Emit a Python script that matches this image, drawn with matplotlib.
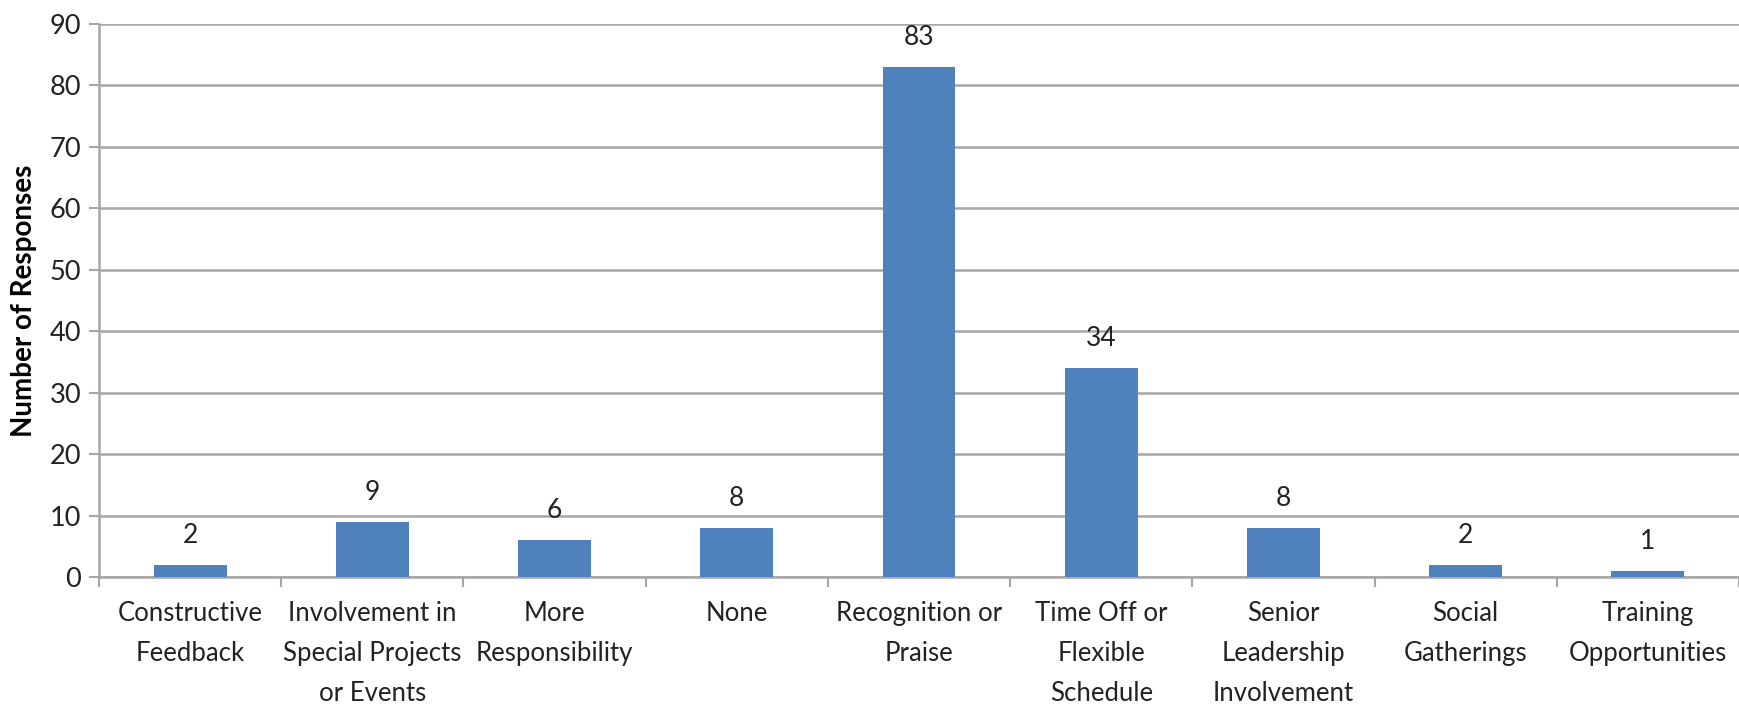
import matplotlib
matplotlib.use("Agg")
import matplotlib.pyplot as plt
import numpy as np

categories = [
    "Constructive\nFeedback",
    "Involvement in\nSpecial Projects\nor Events",
    "More\nResponsibility",
    "None",
    "Recognition or\nPraise",
    "Time Off or\nFlexible\nSchedule",
    "Senior\nLeadership\nInvolvement",
    "Social\nGatherings",
    "Training\nOpportunities",
]
responses = [2, 9, 6, 8, 83, 34, 8, 2, 1]
y_ticks = [0, 10, 20, 30, 40, 50, 60, 70, 80, 90]

plt.rcParams["font.family"] = ["Lato", "DejaVu Sans"]

fig = plt.figure(figsize=(17.39, 7.11), dpi=100)
ax = fig.add_axes([99 / 1739, 1 - 577 / 711, 1 - 99 / 1739, (577 - 24) / 711])

x = np.arange(len(categories))
bars = ax.bar(x, responses, width=0.4, color="#4F81BD", zorder=3)

for xi, v in zip(x, responses):
    ax.annotate(str(v), (xi, v), xytext=(0, 12), textcoords="offset points",
                ha="center", va="bottom", fontsize=19, color="#222222")

ax.set_xlim(-0.5, len(categories) - 0.5)
ax.set_ylim(0, 90)
ax.set_yticks(y_ticks)
ax.tick_params(axis="y", labelsize=19.5, colors="#222222", length=7, width=1.5,
               color="#a6a6a6", pad=6)
ax.yaxis.grid(True, color="#a6a6a6", linewidth=1.8, zorder=0)

# category labels centred under each bar, tick marks at the boundaries
ax.set_xticks(x)
ax.set_xticklabels(categories, fontsize=18.5, color="#222222", linespacing=1.75)
ax.tick_params(axis="x", which="major", length=0, pad=17)
ax.set_xticks(np.arange(len(categories) + 1) - 0.5, minor=True)
ax.tick_params(axis="x", which="minor", length=7, width=1.5, color="#a6a6a6")

for side in ("top", "right"):
    ax.spines[side].set_visible(False)
for side in ("left", "bottom"):
    ax.spines[side].set_color("#a6a6a6")
    ax.spines[side].set_linewidth(1.8)

ax.set_ylabel("Number of Responses", fontsize=20, fontweight="bold", labelpad=9)

fig.savefig("out.png", dpi=100)
